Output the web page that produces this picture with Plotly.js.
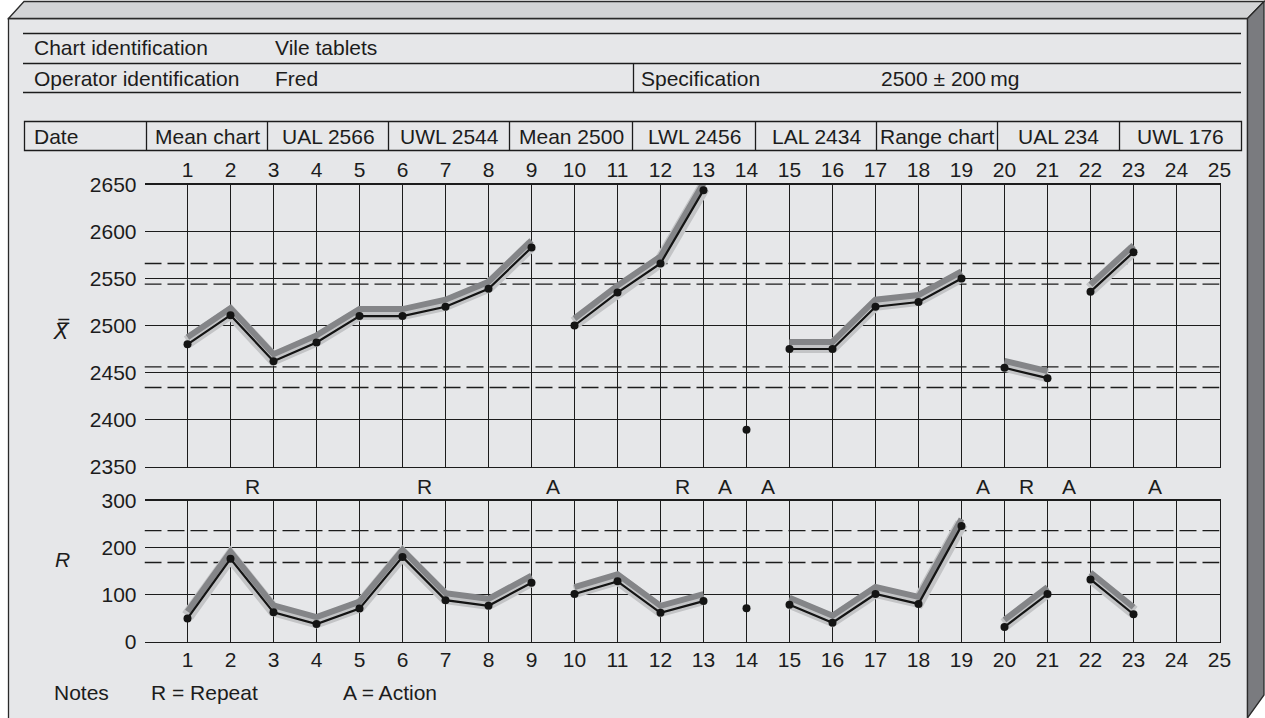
<!DOCTYPE html>
<html>
<head>
<meta charset="utf-8">
<script src="https://cdn.plot.ly/plotly-3.0.1.min.js"></script>
<style>
html,body{margin:0;padding:0;background:#ffffff;overflow:hidden}
#chart{width:1265px;height:718px}
</style>
</head>
<body>
<div id="chart"></div>
<script>
// ---------------- data ----------------
const samples = [1,2,3,4,5,6,7,8,9,10,11,12,13,14,15,16,17,18,19,20,21,22,23];
const sampleTicks = [1,2,3,4,5,6,7,8,9,10,11,12,13,14,15,16,17,18,19,20,21,22,23,24,25];
const sampleLabels = ['1','2','3','4','5','6','7','8','9','10','11','12','13','14','15','16','17','18','19','20','21','22','23','24','25'];
const meanValues = [2480,2511,2462,2482,2510,2510,2520,2539,2583,2500,2535,2566,2644,2389,2475,2475,2520,2525,2550,2455,2444,2536,2578];
const rangeValues = [49,176,62,37,70,180,88,76,125,101,128,61,86,71,78,40,101,80,246,31,101,132,58];
const breakAfter = [9,13,14,19,21];
const meanTicks = [2350,2400,2450,2500,2550,2600,2650];
const rangeTicks = [0,100,200,300];
const meanLimits = [2566,2544,2456,2434];
const rangeLimits = [236,168];
const noteLetters = ['R','R','A','R','A','A','A','R','A','A'];
const noteSamples = [2,6,9,12,13,14,19,20,21,23];
const headerLabels = ['Chart identification','Operator identification','Specification'];
const headerValues = ['Vile tablets','Fred','2500 ± 200\u2009mg'];
const tableCells = ['Date','Mean chart','UAL 2566','UWL 2544','Mean 2500','LWL 2456','LAL 2434','Range chart','UAL 234','UWL 176'];
const notesTexts = ['Notes','R = Repeat','A = Action'];
const meanTitle = 'X\u033F';
const rangeTitle = 'R';

// ---------------- helpers ----------------
const W = 1265, H = 718;
const px = x => x / W;
const py = y => 1 - y / H;
const FONT = 'Liberation Sans, Arial, Helvetica, sans-serif';
const FS = 21;
const INK = '#1c1c1c';

function withGaps(xs, ys) {
  const X = [], Y = [];
  xs.forEach((s, i) => {
    X.push(s); Y.push(ys[i]);
    if (breakAfter.includes(s)) { X.push(null); Y.push(null); }
  });
  return {X, Y};
}

// plot geometry (pixels) – grid lines land on half pixels for crisp rendering
const PL = 144.5, PR = 144.5 + 25 * 43;
const MT = 184.5, MB = 184.5 + 6 * 47;
const RT = 500.5, RB = 500.5 + 3 * 47;
const meanUnitPerPx = 300 / (MB - MT);
const rangeUnitPerPx = 300 / (RB - RT);
const DARK_SHIFT = 7, LIGHT_SHIFT = 2.5;

const m = withGaps(samples, meanValues);
const r = withGaps(samples, rangeValues);

const traces = [];
function addSeries(d, xa, yLight, yDark, yMain) {
  traces.push({x: d.X, y: d.Y, xaxis: xa, yaxis: yLight, mode: 'lines', connectgaps: false,
    line: {color: '#c3c4c6', width: 13}, hoverinfo: 'skip', showlegend: false});
  traces.push({x: d.X, y: d.Y, xaxis: xa, yaxis: yDark, mode: 'lines', connectgaps: false,
    line: {color: '#848588', width: 6}, hoverinfo: 'skip', showlegend: false});
  traces.push({x: d.X, y: d.Y, xaxis: xa, yaxis: yMain, mode: 'lines+markers', connectgaps: false,
    line: {color: '#141414', width: 2.2}, marker: {color: '#141414', size: 8},
    showlegend: false});
}
addSeries(m, 'x', 'y3', 'y4', 'y7');
addSeries(r, 'x2', 'y5', 'y6', 'y8');

// ---------------- shapes ----------------
const shapes = [];
// 3D board
shapes.push({type:'rect', xref:'paper', yref:'paper', x0:px(8.5), x1:px(1247.5), y0:py(18.5), y1:py(760),
  fillcolor:'#e6e7e9', line:{color:'#2a2a2a', width:1.3}, layer:'below'});
shapes.push({type:'path', xref:'paper', yref:'paper',
  path:`M ${px(8.5)},${py(18.5)} L ${px(24)},${py(1.5)} L ${px(1264)},${py(1.5)} L ${px(1247.5)},${py(18.5)} Z`,
  fillcolor:'#d3d4d6', line:{color:'#2a2a2a', width:1.3}, layer:'below'});
shapes.push({type:'path', xref:'paper', yref:'paper',
  path:`M ${px(1247.5)},${py(18.5)} L ${px(1264)},${py(1.5)} L ${px(1264)},${py(695)} L ${px(1247.5)},${py(718)} Z`,
  fillcolor:'#7a7b7f', line:{color:'#2a2a2a', width:1.3}, layer:'below'});
// header lines
[33.5, 63.5, 92.5].forEach(y => shapes.push({type:'line', xref:'paper', yref:'paper',
  x0:px(23), x1:px(1241), y0:py(y), y1:py(y), line:{color:INK, width:1.3}}));
shapes.push({type:'line', xref:'paper', yref:'paper', x0:px(633.5), x1:px(633.5), y0:py(63.5), y1:py(92.5),
  line:{color:INK, width:1.3}});
// table row
const cellEdges = [24.5,146.5,267.5,388.5,509.5,632.5,755.5,876.5,997.5,1119.5,1241.5];
shapes.push({type:'rect', xref:'paper', yref:'paper', x0:px(24.5), x1:px(1241.5), y0:py(121.5), y1:py(150.5),
  line:{color:INK, width:1.3}});
cellEdges.slice(1,-1).forEach(x => shapes.push({type:'line', xref:'paper', yref:'paper',
  x0:px(x), x1:px(x), y0:py(121.5), y1:py(150.5), line:{color:INK, width:1.3}}));
// control limit lines
meanLimits.forEach(v => shapes.push({type:'line', xref:'x', yref:'y', x0:0, x1:25, y0:v, y1:v,
  line:{color:INK, width:1.4, dash:'17px,6px'}, layer:'below'}));
rangeLimits.forEach(v => shapes.push({type:'line', xref:'x2', yref:'y2', x0:0, x1:25, y0:v, y1:v,
  line:{color:INK, width:1.4, dash:'17px,6px'}, layer:'below'}));

// ---------------- annotations ----------------
const ann = [];
const txt = (text, x, y, xanchor, extra) => Object.assign({text, xref:'paper', yref:'paper', x:px(x), y:py(y),
  xanchor: xanchor || 'left', yanchor:'middle', showarrow:false, font:{family:FONT, size:FS, color:INK}}, extra || {});
ann.push(txt(headerLabels[0], 32, 48));
ann.push(txt(headerValues[0], 273, 48));
ann.push(txt(headerLabels[1], 32, 78));
ann.push(txt(headerValues[1], 273, 78));
ann.push(txt(headerLabels[2], 639, 78));
ann.push(txt(headerValues[2], 879, 78));
tableCells.forEach((t, i) => {
  if (i === 0) ann.push(txt(t, 32, 136));
  else ann.push(txt(t, (cellEdges[i] + cellEdges[i+1]) / 2, 136, 'center'));
});
noteLetters.forEach((t, i) => ann.push({text:t, xref:'x', yref:'paper', x:noteSamples[i], xshift:21.5, y:py(486),
  xanchor:'center', yanchor:'middle', showarrow:false, font:{family:FONT, size:FS, color:INK}}));
ann.push(txt(meanTitle, 61, 331, 'center', {font:{family:'DejaVu Sans, '+FONT, size:FS, color:INK, style:'italic'}}));
ann.push(txt(rangeTitle, 62, 559, 'center', {font:{family:FONT, size:FS, color:INK, style:'italic'}}));
ann.push(txt(notesTexts[0], 52, 692));
ann.push(txt(notesTexts[1], 149, 692));
ann.push(txt(notesTexts[2], 341, 692));

// ---------------- layout ----------------
const tickFont = {family:FONT, size:FS, color:INK};
const gridStyle = {showgrid:true, gridcolor:INK, gridwidth:1.3, zeroline:false, ticks:''};
const xd = [px(PL), px(PR)];
const meanDom = [py(MB), py(MT)];
const rangeDom = [py(RB), py(RT)];
const hidden = {showgrid:false, zeroline:false, showticklabels:false, ticks:'', showline:false};
const layout = {
  width: W, height: H,
  margin: {l:0, r:0, t:0, b:0, pad:0},
  paper_bgcolor: '#ffffff',
  plot_bgcolor: 'rgba(0,0,0,0)',
  showlegend: false,
  xaxis: Object.assign({domain:xd, range:[0,25], anchor:'y', side:'top', tickmode:'array',
    tickvals:sampleTicks, ticktext:sampleLabels, tickfont:tickFont, ticklabelstandoff:-2,
    showline:true, mirror:true, linecolor:INK, linewidth:1.3}, gridStyle),
  xaxis2: Object.assign({domain:xd, range:[0,25], anchor:'y2', side:'bottom', tickmode:'array',
    tickvals:sampleTicks, ticktext:sampleLabels, tickfont:tickFont, ticklabelstandoff:-1,
    showline:true, mirror:true, linecolor:INK, linewidth:1.3}, gridStyle),
  yaxis: Object.assign({domain:meanDom, range:[2350,2650], anchor:'x', tickmode:'array',
    tickvals:meanTicks, tickfont:tickFont, ticklabelstandoff:7, showline:false}, gridStyle),
  yaxis2: Object.assign({domain:rangeDom, range:[0,300], anchor:'x2', tickmode:'array',
    tickvals:rangeTicks, tickfont:tickFont, ticklabelstandoff:7, showline:false}, gridStyle),
  yaxis3: Object.assign({overlaying:'y', anchor:'x', range:[2350 - LIGHT_SHIFT*meanUnitPerPx, 2650 - LIGHT_SHIFT*meanUnitPerPx]}, hidden),
  yaxis4: Object.assign({overlaying:'y', anchor:'x', range:[2350 - DARK_SHIFT*meanUnitPerPx, 2650 - DARK_SHIFT*meanUnitPerPx]}, hidden),
  yaxis5: Object.assign({overlaying:'y2', anchor:'x2', range:[-LIGHT_SHIFT*rangeUnitPerPx, 300 - LIGHT_SHIFT*rangeUnitPerPx]}, hidden),
  yaxis6: Object.assign({overlaying:'y2', anchor:'x2', range:[-DARK_SHIFT*rangeUnitPerPx, 300 - DARK_SHIFT*rangeUnitPerPx]}, hidden),
  yaxis7: Object.assign({overlaying:'y', anchor:'x', range:[2350,2650]}, hidden,
    {side:'right', showline:true, linecolor:INK, linewidth:1.3}),
  yaxis8: Object.assign({overlaying:'y2', anchor:'x2', range:[0,300]}, hidden,
    {side:'right', showline:true, linecolor:INK, linewidth:1.3}),
  shapes: shapes,
  annotations: ann
};

Plotly.newPlot('chart', traces, layout, {staticPlot:true, displayModeBar:false});
</script>
</body>
</html>
